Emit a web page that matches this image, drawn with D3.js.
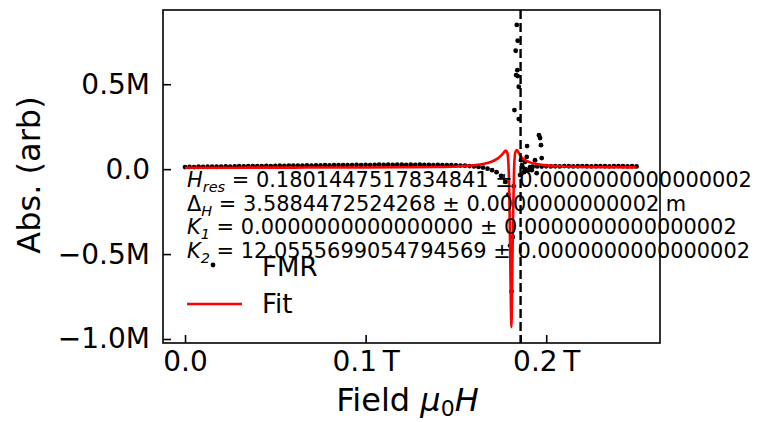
<!DOCTYPE html>
<html>
<head>
<meta charset="utf-8">
<title>FMR fit</title>
<script src="https://cdn.jsdelivr.net/npm/d3@7/dist/d3.min.js"></script>
<style>
  body { margin: 0; background: #fff; }
  svg text { font-family: "DejaVu Sans", sans-serif; fill: #000; }
</style>
</head>
<body>
<div id="chart"></div>
<script>
// measured data (field in T, absorption in millions)
var fmrField = [
  0.0000,0.0025,0.0050,0.0075,0.0100,0.0125,0.0150,0.0175,0.0200,0.0225,
  0.0250,0.0275,0.0300,0.0325,0.0350,0.0375,0.0400,0.0425,0.0450,0.0475,
  0.0500,0.0525,0.0550,0.0575,0.0600,0.0625,0.0650,0.0675,0.0700,0.0725,
  0.0750,0.0775,0.0800,0.0825,0.0850,0.0875,0.0900,0.0925,0.0950,0.0975,
  0.1000,0.1025,0.1050,0.1075,0.1100,0.1125,0.1150,0.1175,0.1200,0.1225,
  0.1250,0.1275,0.1300,0.1325,0.1350,0.1375,0.1400,0.1425,0.1450,0.1475,
  0.1500,0.1525,0.1550,0.1575,0.1600,0.1625,0.1650,0.1675,0.1700,0.1725,
  0.1750,0.1775,
  0.1790,0.1800,0.1808,0.1815,0.1820,
  0.1837,0.1842,0.1831,0.1840,0.1833,0.1842,0.1848,0.1824,0.1848,
  0.1894,0.1960,0.1966,0.1971,0.1892,0.1883,0.1975,0.1920,0.1947,0.1866,
  0.1855,0.1877,0.1900,0.1860,0.1938,0.1870,0.1885,0.1910,
  0.1925,0.1950,0.1975,0.2000,0.2025,0.2050,0.2075,0.2100,0.2125,0.2150,
  0.2175,0.2200,0.2225,0.2250,0.2275,0.2300,0.2325,0.2350,0.2375,0.2400,
  0.2425,0.2450,0.2475,0.2500
];
var fmrAbs = [
  0.012,0.013,0.012,0.014,0.013,0.014,0.015,0.014,0.015,0.016,
  0.015,0.016,0.017,0.016,0.017,0.018,0.017,0.018,0.019,0.018,
  0.019,0.020,0.019,0.020,0.021,0.020,0.021,0.022,0.021,0.022,
  0.022,0.023,0.022,0.023,0.024,0.023,0.024,0.024,0.025,0.024,
  0.025,0.024,0.025,0.026,0.025,0.026,0.025,0.026,0.026,0.025,
  0.026,0.025,0.026,0.025,0.025,0.024,0.025,0.024,0.023,0.023,
  0.022,0.021,0.020,0.018,0.016,0.013,0.009,0.003,-0.006,-0.018,
  -0.040,-0.075,
  -0.150,-0.450,-0.720,-0.400,-0.100,
  0.849,0.756,0.697,0.583,0.554,0.548,0.485,0.348,0.295,
  0.136,0.200,0.183,0.141,0.072,0.043,0.065,-0.006,-0.024,0.024,
  -0.035,-0.018,-0.006,0.053,0.053,0.010,0.000,0.012,
  0.014,0.016,0.015,0.017,0.016,0.017,0.016,0.018,0.017,0.016,
  0.017,0.018,0.017,0.016,0.017,0.018,0.017,0.016,0.017,0.018,
  0.017,0.016,0.017,0.016
];

// fitted curve
var fitField = [0.000,0.020,0.040,0.060,0.080,0.100,0.120,0.140,0.150,0.160,
  0.165,0.170,0.173,0.175,0.1765,0.1775,0.1785,0.1792,0.1798,0.1803,
  0.1807,0.1811,0.1816,0.1822,0.1829,0.1838,0.1848,0.186,0.188,0.191,
  0.195,0.200,0.210,0.220,0.235,0.250];
var fitAbs = [0.008,0.008,0.009,0.009,0.010,0.010,0.011,0.013,0.016,0.023,
  0.030,0.045,0.062,0.080,0.097,0.110,0.095,0.000,-0.300,-0.700,
  -0.930,-0.700,-0.300,0.000,0.100,0.112,0.095,0.075,0.055,0.040,
  0.030,0.022,0.016,0.013,0.011,0.010];

var resonanceField = 0.1858;

var xTicks = [0, 0.1, 0.2, 0.1858];
var xTickLabels = ["0.0", "0.1\u2009T", "0.2\u2009T", ""];
var yTicks = [0.5, 0, -0.5, -1.0];
var yTickLabels = ["0.5M", "0.0", "\u22120.5M", "\u22121.0M"];

var paramNames = [["H", "res"], ["\u0394", "H"], ["K", "1"], ["K", "2"]];
var paramValues = [
  " = 0.1801447517834841 \u00b1 0.0000000000000002",
  " = 3.5884472524268 \u00b1 0.0000000000002 m",
  " = 0.0000000000000000 \u00b1 0.0000000000000002",
  " = 12.0555699054794569 \u00b1 0.0000000000000002"
];

var width = 757, height = 422,
    plotL = 163, plotR = 660, plotT = 10, plotB = 343;

var svg = d3.select('#chart').append('svg')
    .attr('width', width)
    .attr('height', height);
svg.append('rect').attr('width', width).attr('height', height).attr('fill', '#fff');

var x = d3.scaleLinear().domain([-0.0122, 0.263]).range([plotL, plotR]);
var y = d3.scaleLinear().domain([-1.0236, 0.937]).range([plotB, plotT]);

svg.append('clipPath').attr('id', 'clip')
  .append('rect').attr('x', plotL).attr('y', plotT)
  .attr('width', plotR - plotL).attr('height', plotB - plotT);

var plot = svg.append('g').attr('clip-path', 'url(#clip)');

// data points
plot.selectAll('circle.fmr')
    .data(fmrField)
    .enter()
    .append('circle')
    .attr('class', 'fmr')
    .attr('cx', function(d) { return x(d); })
    .attr('cy', function(d, i) { return y(fmrAbs[i]); })
    .attr('r', 2.4)
    .attr('fill', '#000');

// fit
var line = d3.line()
    .x(function(d) { return x(d); })
    .y(function(d, i) { return y(fitAbs[i]); })
    .curve(d3.curveMonotoneX);
plot.append('path')
    .attr('d', line(fitField))
    .attr('fill', 'none')
    .attr('stroke', '#ff0000')
    .attr('stroke-width', 2.6);

// resonance marker
plot.append('line')
    .attr('x1', x(resonanceField)).attr('x2', x(resonanceField))
    .attr('y1', plotT).attr('y2', plotB)
    .attr('stroke', '#000')
    .attr('stroke-width', 2.4)
    .attr('stroke-dasharray', '9,4');

// axes, ticks pointing inwards
var xAxis = d3.axisBottom(x)
    .tickValues(xTicks)
    .tickFormat(function(d, i) { return xTickLabels[i]; })
    .tickSizeInner(-8).tickSizeOuter(0).tickPadding(8);
var gx = svg.append('g').attr('transform', 'translate(0,' + plotB + ')').call(xAxis);

var yAxis = d3.axisLeft(y)
    .tickValues(yTicks)
    .tickFormat(function(d, i) { return yTickLabels[i]; })
    .tickSizeInner(-8).tickSizeOuter(0).tickPadding(13);
var gy = svg.append('g').attr('transform', 'translate(' + plotL + ',0)').call(yAxis);

[gx, gy].forEach(function(g) {
  g.select('.domain').remove();
  g.selectAll('.tick line').attr('stroke', '#000').attr('stroke-width', 1.6);
  g.selectAll('.tick text').attr('font-size', 28).attr('font-family', '"DejaVu Sans", sans-serif');
});

svg.append('rect')
    .attr('x', plotL).attr('y', plotT)
    .attr('width', plotR - plotL).attr('height', plotB - plotT)
    .attr('fill', 'none').attr('stroke', '#000').attr('stroke-width', 1.6);

// axis labels
var xl = svg.append('text')
    .attr('x', (plotL + plotR) / 2 - 4).attr('y', 411)
    .attr('text-anchor', 'middle').attr('font-size', 32);
xl.append('tspan').text('Field ');
xl.append('tspan').attr('font-style', 'italic').text('\u03bc');
xl.append('tspan').attr('font-size', 22).attr('dy', 5).text('0');
xl.append('tspan').attr('font-style', 'italic').attr('dy', -5).text('H');

svg.append('text')
    .attr('transform', 'translate(40,175) rotate(-90)')
    .attr('text-anchor', 'middle').attr('font-size', 32)
    .text('Abs. (arb)');

// fit parameters
paramValues.forEach(function(v, i) {
  var t = svg.append('text')
      .attr('x', 187).attr('y', 187 + i * 23.7)
      .attr('font-size', 20.9);
  t.append('tspan').attr('font-style', paramNames[i][0] === '\u0394' ? 'normal' : 'italic').text(paramNames[i][0]);
  t.append('tspan').attr('font-style', 'italic').attr('font-size', 14.5).attr('dy', 5).text(paramNames[i][1]);
  t.append('tspan').attr('dy', -5).text(v);
});

// legend
svg.append('circle').attr('cx', 213).attr('cy', 265).attr('r', 2.4).attr('fill', '#000');
svg.append('text').attr('x', 262).attr('y', 276).attr('font-size', 26).text('FMR');
svg.append('line').attr('x1', 187).attr('x2', 242).attr('y1', 304).attr('y2', 304)
    .attr('stroke', '#ff0000').attr('stroke-width', 2.6);
svg.append('text').attr('x', 262).attr('y', 313).attr('font-size', 26).text('Fit');
</script>
</body>
</html>
